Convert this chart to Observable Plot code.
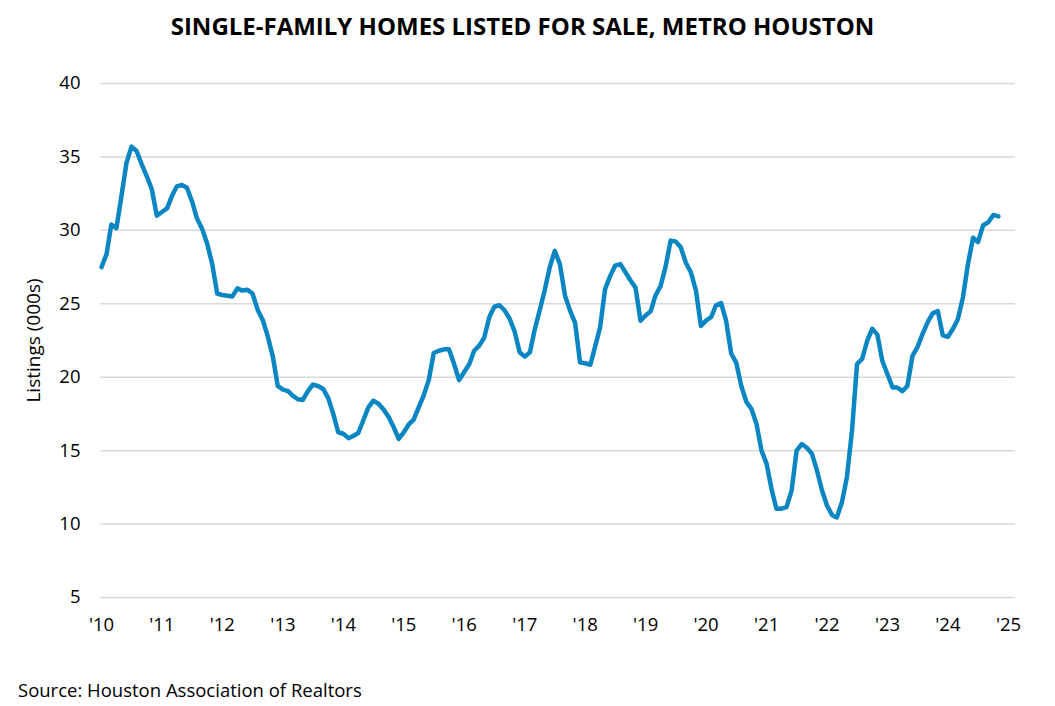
<!DOCTYPE html>
<html>
<head>
<meta charset="utf-8">
<script src="https://cdn.jsdelivr.net/npm/d3@7"></script>
<script src="https://cdn.jsdelivr.net/npm/@observablehq/plot@0.6"></script>
<style>
  html, body { margin: 0; padding: 0; background: #fff; }
  body { width: 1055px; height: 706px; position: relative; overflow: hidden; font-family: "Open Sans", sans-serif; }
  #title { position: absolute; left: 0; top: 9px; width: 1045px; text-align: center; font-weight: bold; font-size: 24px; color: #000; }
  #chart { position: absolute; left: 0; top: 55px; }
  #source { position: absolute; left: 18px; top: 677px; font-size: 18.5px; color: #000; }
</style>
</head>
<body>
<div id="title">SINGLE-FAMILY HOMES LISTED FOR SALE, METRO HOUSTON</div>
<div id="chart"></div>
<div id="source">Source: Houston Association of Realtors</div>
<script>
const startYear = 2010;
const startMonth = 0;
const listings = [
  // 2010
  27.5, 28.4, 30.4, 30.15, 32.3, 34.6, 35.7, 35.4, 34.5, 33.7, 32.8, 31.0,
  // 2011
  31.25, 31.5, 32.3, 33.0, 33.1, 32.9, 32.0, 30.8, 30.1, 29.1, 27.7, 25.7,
  // 2012
  25.6, 25.55, 25.5, 26.05, 25.9, 25.95, 25.7, 24.6, 23.9, 22.8, 21.4, 19.4,
  // 2013
  19.15, 19.05, 18.75, 18.5, 18.45, 19.05, 19.5, 19.4, 19.2, 18.6, 17.5, 16.25,
  // 2014
  16.15, 15.85, 16.0, 16.2, 17.05, 17.95, 18.4, 18.2, 17.8, 17.3, 16.6, 15.8,
  // 2015
  16.25, 16.8, 17.1, 17.95, 18.75, 19.8, 21.65, 21.8, 21.9, 21.9, 20.9, 19.8,
  // 2016
  20.35, 20.9, 21.8, 22.15, 22.7, 24.1, 24.8, 24.9, 24.55, 24.0, 23.1, 21.7,
  // 2017
  21.4, 21.7, 23.2, 24.55, 25.9, 27.5, 28.6, 27.7, 25.55, 24.55, 23.7, 21.0,
  // 2018
  20.95, 20.85, 22.05, 23.4, 26.0, 26.9, 27.6, 27.7, 27.15, 26.6, 26.1, 23.85,
  // 2019
  24.2, 24.5, 25.55, 26.2, 27.5, 29.3, 29.25, 28.85, 27.8, 27.15, 25.9, 23.5,
  // 2020
  23.85, 24.1, 24.9, 25.05, 23.85, 21.6, 21.0, 19.4, 18.3, 17.85, 16.8, 15.0,
  // 2021
  14.1, 12.3, 11.05, 11.05, 11.15, 12.3, 15.0, 15.45, 15.2, 14.8, 13.65, 12.3,
  // 2022
  11.25, 10.6, 10.45, 11.5, 13.2, 16.4, 20.9, 21.25, 22.5, 23.3, 22.9, 21.1,
  // 2023
  20.2, 19.3, 19.3, 19.05, 19.4, 21.45, 22.05, 22.95, 23.75, 24.35, 24.5, 22.85,
  // 2024
  22.75, 23.3, 23.95, 25.45, 27.7, 29.5, 29.2, 30.35, 30.55, 31.05, 30.95
];
const yTicks = [5, 10, 15, 20, 25, 30, 35, 40];
const yLabel = "Listings (000s)";
const xTickYears = d3.range(2010, 2026);
const xTickLabels = xTickYears.map(y => "'" + String(y).slice(2));

const data = listings.map((v, i) => ({ date: new Date(startYear, startMonth + i, 1), value: v }));
const xTicks = xTickYears.map(y => new Date(y, 0, 1));

const chart = Plot.plot({
  width: 1055,
  height: 600,
  marginLeft: 101,
  marginRight: 47,
  marginTop: 28,
  marginBottom: 58,
  style: { fontFamily: "'Open Sans', sans-serif", fontSize: "18.5px", color: "#000", background: "#fff" },
  x: { type: "utc", domain: [new Date(2010, 0, 1), new Date(2025, 0, 1)] },
  y: { domain: [5, 40] },
  marks: [
    Plot.ruleY(yTicks, { x1: new Date(2009, 11, 27), x2: new Date(2025, 1, 12), stroke: "#d9d9d9", strokeWidth: 1.5 }),
    Plot.axisY(yTicks, { tickSize: 0, tickPadding: 21, label: null, fontSize: 18.5 }),
    Plot.axisX(xTicks, { tickSize: 0, tickPadding: 20, tickFormat: (d, i) => xTickLabels[i], label: null, fontSize: 18.5 }),
    Plot.text([yLabel], { frameAnchor: "left", textAnchor: "middle", dx: -68, rotate: -90, fontSize: 19, fill: "#000", text: d => d }),
    Plot.line(data, { x: "date", y: "value", stroke: "#0a86c3", strokeWidth: 4.5, strokeLinejoin: "round", strokeLinecap: "round" })
  ]
});
document.getElementById("chart").appendChild(chart);
</script>
</body>
</html>
